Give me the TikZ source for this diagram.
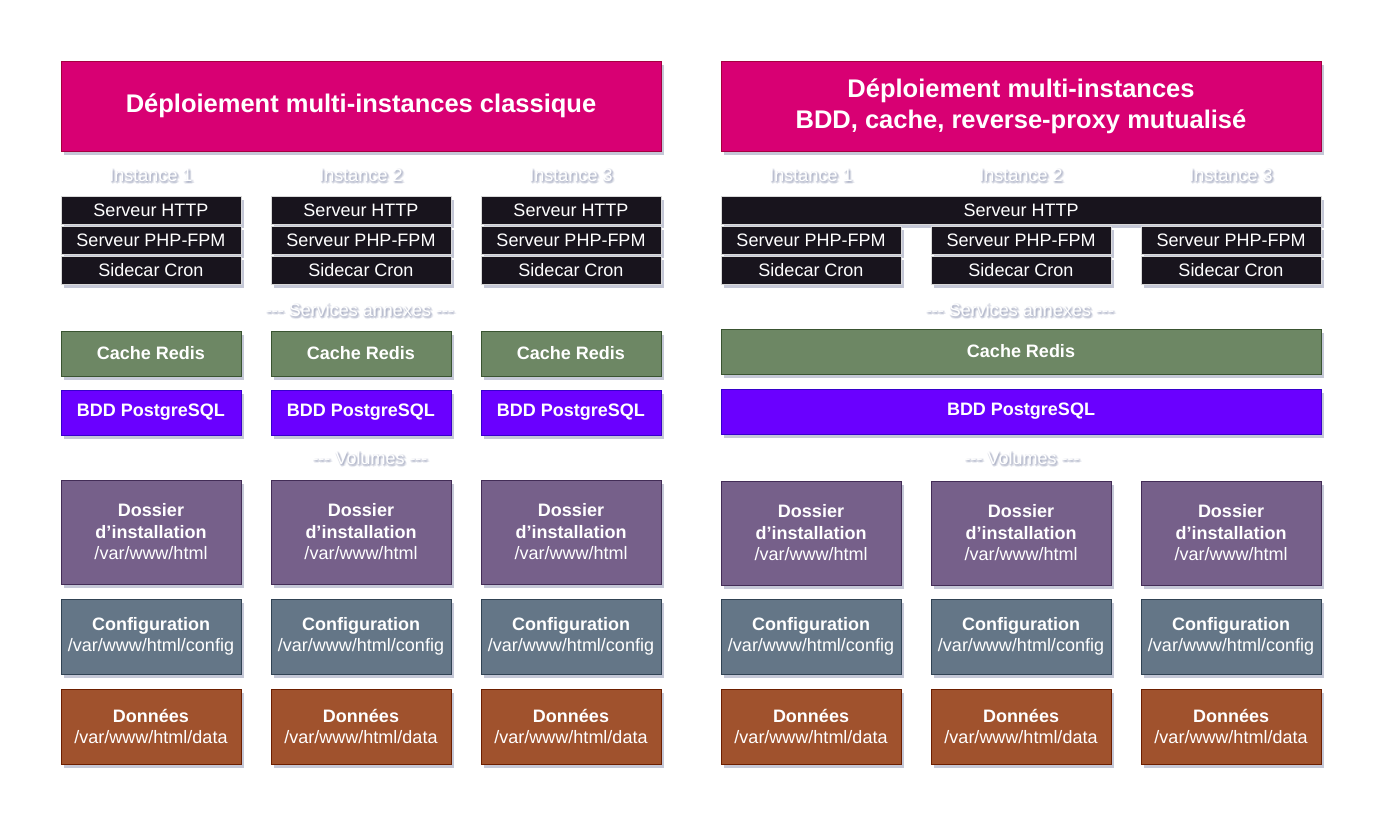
\documentclass[tikz,border=0pt]{standalone}
\usepackage{fontspec}
\setmainfont{Liberation Sans}
\usetikzlibrary{positioning,shadows}
\definecolor{titre}{HTML}{D80073}
\definecolor{titreb}{HTML}{A50040}
\definecolor{noir}{HTML}{18141D}
\definecolor{redis}{HTML}{6D8764}
\definecolor{redisb}{HTML}{3A5431}
\definecolor{bdd}{HTML}{6A00FF}
\definecolor{bddb}{HTML}{3700CC}
\definecolor{dossier}{HTML}{76608A}
\definecolor{dossierb}{HTML}{432D57}
\definecolor{conf}{HTML}{647687}
\definecolor{confb}{HTML}{314354}
\definecolor{donnees}{HTML}{A0522D}
\definecolor{donneesb}{HTML}{6D1F00}
\definecolor{ombre}{HTML}{7E86A6}

% label with a soft grey text shadow
\newcommand\etiquette[4]{%
  \foreach \dx/\dy in {0/1,1/0,2/1,1/2,1/1,2/2,0/2,2/0,1/3,3/2}
    \node[halo] at (#2+\dx,#3+\dy) {#4};
  \node[etiq] (#1) at (#2,#3) {#4};}

\begin{document}
\begin{tikzpicture}[x=1pt,y=-1pt,
    box/.style={anchor=north west,inner sep=0pt,outer sep=0pt,align=center,
                text=white,font=\fontsize{18}{21.5}\selectfont,
                drop shadow={shadow xshift=3pt,shadow yshift=-4pt,
                             fill=ombre,opacity=.45}},
    titlebox/.style={box,draw=titreb,fill=titre,minimum width=600pt,
                minimum height=90pt,font=\bfseries\fontsize{25.5}{31}\selectfont},
    srv/.style={box,draw=black!15,fill=noir,minimum width=180pt,minimum height=28pt},
    redisbox/.style={box,draw=redisb,fill=redis,minimum width=180pt,minimum height=45pt},
    bddbox/.style={box,draw=bddb,fill=bdd,minimum width=180pt,minimum height=45pt},
    dossbox/.style={box,draw=dossierb,fill=dossier,minimum width=180pt,minimum height=104pt},
    confbox/.style={box,draw=confb,fill=conf,minimum width=180pt,minimum height=75pt},
    databox/.style={box,draw=donneesb,fill=donnees,minimum width=180pt,minimum height=75pt},
    etiq/.style={text=white,font=\fontsize{18}{21.5}\selectfont,inner sep=0pt},
    halo/.style={etiq,text=ombre,opacity=.13}]
  \useasboundingbox (0,0) rectangle (1391,834);

  % classic deployment
  \node[titlebox] (titreA) at (61,61) {D\'eploiement multi-instances classique};
  \foreach \i/\x in {1/61,2/271,3/481}{
    \etiquette{instA\i}{\x+90}{175}{Instance \i}
    \node[srv] (httpA\i) at (\x,196) {Serveur HTTP};
    \node[srv,below=2pt of httpA\i] (phpA\i) {Serveur PHP-FPM};
    \node[srv,below=2pt of phpA\i] (cronA\i) {Sidecar Cron};
    \node[redisbox] (redisA\i) at (\x,331) {\bfseries Cache Redis};
    \node[bddbox,below=14pt of redisA\i] (bddA\i) {\bfseries BDD PostgreSQL};
    \node[dossbox] (dossA\i) at (\x,480) {\bfseries Dossier\\\bfseries d'installation\\/var/www/html};
    \node[confbox,below=15pt of dossA\i] (confA\i) {\bfseries Configuration\\/var/www/html/config};
    \node[databox,below=15pt of confA\i] (dataA\i) {\bfseries Donn\'ees\\/var/www/html/data};
  }
  \etiquette{servA}{360}{310}{{-}{-}{-} Services annexes {-}{-}{-}}
  \etiquette{volA}{370}{458}{{-}{-}{-} Volumes {-}{-}{-}}

  % shared deployment
  \node[titlebox] (titreB) at (721,61) {D\'eploiement multi-instances\\BDD, cache, reverse-proxy mutualis\'e};
  \node[srv,minimum width=600pt] (httpB) at (721,196) {Serveur HTTP};
  \foreach \i/\x in {1/721,2/931,3/1141}{
    \etiquette{instB\i}{\x+90}{175}{Instance \i}
    \node[srv] (phpB\i) at (\x,226) {Serveur PHP-FPM};
    \node[srv,below=2pt of phpB\i] (cronB\i) {Sidecar Cron};
    \node[dossbox] (dossB\i) at (\x,481) {\bfseries Dossier\\\bfseries d'installation\\/var/www/html};
    \node[confbox,below=14pt of dossB\i] (confB\i) {\bfseries Configuration\\/var/www/html/config};
    \node[databox,below=15pt of confB\i] (dataB\i) {\bfseries Donn\'ees\\/var/www/html/data};
  }
  \etiquette{servB}{1020}{310}{{-}{-}{-} Services annexes {-}{-}{-}}
  \node[redisbox,minimum width=600pt] (redisB) at (721,329) {\bfseries Cache Redis};
  \node[bddbox,minimum width=600pt,below=15pt of redisB] (bddB) {\bfseries BDD PostgreSQL};
  \etiquette{volB}{1022}{458}{{-}{-}{-} Volumes {-}{-}{-}}
\end{tikzpicture}
\end{document}
